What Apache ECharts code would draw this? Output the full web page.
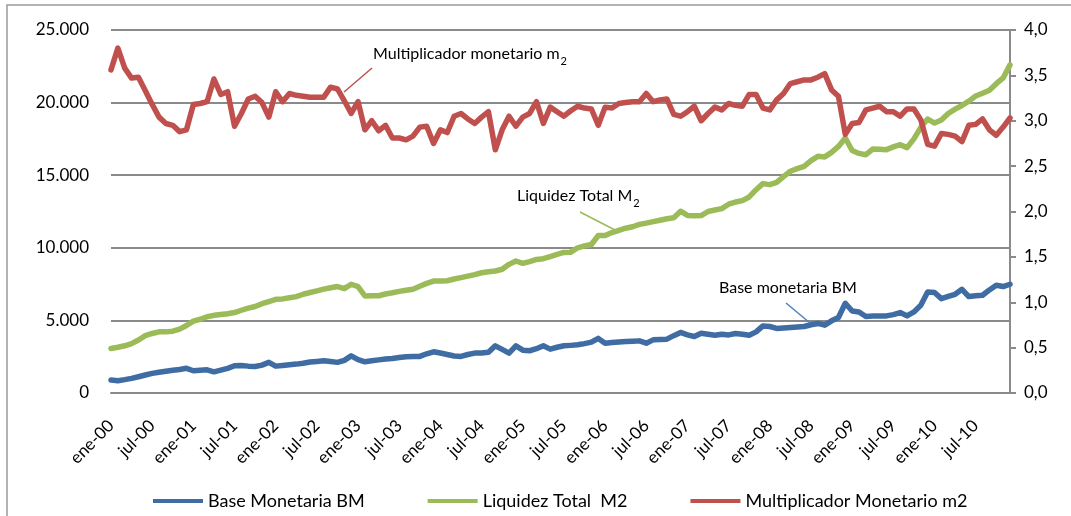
<!DOCTYPE html>
<html>
<head>
<meta charset="utf-8">
<script src="https://cdn.jsdelivr.net/npm/echarts@6/dist/echarts.min.js"></script>
<style>
  html, body { margin: 0; padding: 0; background: #ffffff; }
  #chart { width: 1071px; height: 516px; }
</style>
</head>
<body>
<div id="chart"></div>
<script>
// meses y años (ene-00 .. dic-10)
var meses = ['ene', 'feb', 'mar', 'abr', 'may', 'jun', 'jul', 'ago', 'sep', 'oct', 'nov', 'dic'];
var anios = ['00', '01', '02', '03', '04', '05', '06', '07', '08', '09', '10'];

// Base Monetaria BM (miles de millones)
var baseMonetaria = [
  890, 850, 920, 1010, 1120, 1240, 1350, 1430, 1500, 1560, 1620, 1700,
  1530, 1570, 1600, 1460, 1580, 1700, 1880, 1900, 1850, 1830, 1920, 2110,
  1850, 1900, 1950, 1990, 2050, 2130, 2170, 2220, 2170, 2110, 2250, 2560,
  2300, 2150, 2220, 2280, 2340, 2380, 2450, 2500, 2520, 2520, 2700, 2840,
  2750, 2650, 2550, 2520, 2650, 2750, 2750, 2800, 3250, 3000, 2750, 3250,
  2950, 2910, 3050, 3250, 3020, 3150, 3250, 3280, 3320, 3400, 3500, 3760,
  3430, 3480, 3520, 3550, 3570, 3590, 3430, 3660, 3680, 3710, 3950, 4170,
  4000, 3890, 4120, 4050, 3980, 4050, 4000, 4100, 4050, 3980, 4210, 4620,
  4580, 4450, 4480, 4510, 4550, 4580, 4700, 4790, 4670, 4970, 5200, 6180,
  5650, 5580, 5270, 5300, 5310, 5310, 5400, 5540, 5310, 5580, 6040, 6960,
  6920, 6500, 6650, 6800, 7140, 6640, 6700, 6730, 7100, 7420, 7330, 7490
];

// Liquidez Total M2
var liquidezTotal = [
  3070, 3150, 3250, 3400, 3650, 3950, 4100, 4210, 4210, 4260, 4400, 4650,
  4950, 5080, 5250, 5350, 5400, 5460, 5540, 5700, 5850, 5960, 6150, 6300,
  6450, 6480, 6560, 6640, 6800, 6920, 7030, 7150, 7250, 7330, 7190, 7490,
  7330, 6680, 6700, 6700, 6820, 6900, 7000, 7080, 7150, 7350, 7550, 7710,
  7710, 7730, 7850, 7950, 8050, 8150, 8280, 8350, 8400, 8520, 8860, 9090,
  8930, 9050, 9200, 9250, 9400, 9550, 9680, 9700, 10000, 10130, 10230, 10850,
  10850, 11050, 11200, 11350, 11450, 11610, 11700, 11800, 11900, 12000, 12070, 12520,
  12230, 12200, 12220, 12500, 12600, 12700, 13000, 13150, 13250, 13500, 14000, 14420,
  14350, 14500, 14900, 15270, 15450, 15610, 16000, 16300, 16260, 16570, 16980, 17560,
  16700, 16500, 16410, 16800, 16780, 16760, 16950, 17100, 16900, 17500, 18300, 18870,
  18590, 18800, 19250, 19550, 19800, 20100, 20450, 20650, 20850, 21300, 21700, 22600
];

// Multiplicador Monetario m2 (eje derecho)
var multiplicador = [
  3.56, 3.80, 3.58, 3.47, 3.48, 3.33, 3.18, 3.04, 2.97, 2.95, 2.88, 2.90,
  3.18, 3.19, 3.21, 3.46, 3.29, 3.32, 2.94, 3.08, 3.24, 3.27, 3.20, 3.04,
  3.32, 3.21, 3.30, 3.28, 3.27, 3.26, 3.26, 3.26, 3.37, 3.35, 3.22, 3.08,
  3.21, 2.90, 3.00, 2.89, 2.95, 2.81, 2.81, 2.79, 2.83, 2.93, 2.94, 2.75,
  2.90, 2.87, 3.05, 3.08, 3.02, 2.97, 3.04, 3.10, 2.68, 2.90, 3.05, 2.94,
  3.04, 3.08, 3.21, 2.97, 3.15, 3.10, 3.05, 3.11, 3.16, 3.14, 3.13, 2.95,
  3.15, 3.14, 3.19, 3.20, 3.21, 3.21, 3.30, 3.21, 3.23, 3.24, 3.07, 3.05,
  3.10, 3.16, 3.00, 3.08, 3.15, 3.12, 3.19, 3.17, 3.16, 3.29, 3.29, 3.14,
  3.12, 3.23, 3.30, 3.41, 3.43, 3.45, 3.45, 3.48, 3.52, 3.34, 3.27, 2.85,
  2.97, 2.98, 3.12, 3.14, 3.16, 3.10, 3.10, 3.05, 3.13, 3.13, 3.01, 2.74,
  2.72, 2.86, 2.85, 2.83, 2.77, 2.95, 2.96, 3.02, 2.90, 2.84, 2.93, 3.03
];

var categorias = [];
anios.forEach(function (a) {
  meses.forEach(function (m) { categorias.push(m + '-' + a); });
});

var FONT = 'Lato';
var azul = '#3e6ca3', verde = '#9bbb59', rojo = '#c0504d', gris = '#8a8a8a';

var myChart = echarts.init(document.getElementById('chart'), null, { renderer: 'canvas' });

var lineaSerie = function (name, color, data, yIdx, z) {
  return {
    name: name,
    type: 'line',
    yAxisIndex: yIdx,
    data: data,
    symbol: 'none',
    smooth: false,
    z: z,
    lineStyle: { color: color, width: 5.5, cap: 'round', join: 'round' },
    itemStyle: { color: color },
    emphasis: { disabled: true }
  };
};

// texto de anotación con subíndice
var richNota = {
  a: { fontFamily: FONT, fontSize: 16, color: '#000', verticalAlign: 'middle' },
  s: { fontFamily: FONT, fontSize: 11, color: '#000', verticalAlign: 'bottom', lineHeight: 26, padding: [0, 0, 0, 1] }
};

var option = {
  backgroundColor: '#ffffff',
  animation: false,
  textStyle: { fontFamily: FONT },
  grid: { left: 111, right: 61, top: 30, bottom: 123 },
  legend: {
    left: 148,
    top: 487,
    icon: 'rect',
    itemWidth: 50,
    itemHeight: 4,
    itemGap: 63,
    textStyle: { fontFamily: FONT, fontSize: 18, color: '#000' },
    data: ['Base Monetaria BM', 'Liquidez Total  M2', 'Multiplicador Monetario m2']
  },
  xAxis: {
    type: 'category',
    boundaryGap: false,
    data: categorias,
    axisLine: { lineStyle: { color: gris, width: 2 } },
    axisTick: { show: false },
    axisLabel: {
      interval: 5,
      rotate: 45,
      margin: 30,
      fontFamily: FONT,
      fontSize: 17,
      color: '#000'
    },
    splitLine: { show: false }
  },
  yAxis: [
    {
      type: 'value',
      min: 0,
      max: 25000,
      interval: 5000,
      axisLine: { show: false },
      axisTick: { show: false },
      axisLabel: {
        margin: 22,
        fontFamily: FONT,
        fontSize: 17,
        color: '#000',
        formatter: function (v) { return v === 0 ? '0' : (v / 1000).toFixed(0) + '.000'; }
      },
      splitLine: { lineStyle: { color: gris, width: 2 } }
    },
    {
      type: 'value',
      min: 0,
      max: 4,
      interval: 0.5,
      position: 'right',
      axisLine: { show: true, lineStyle: { color: gris, width: 2 } },
      axisTick: { show: true, inside: false, length: 6, lineStyle: { color: gris, width: 2 } },
      axisLabel: {
        margin: 14,
        fontFamily: FONT,
        fontSize: 17,
        color: '#000',
        formatter: function (v) { return v.toFixed(1).replace('.', ','); }
      },
      splitLine: { show: false }
    }
  ],
  series: [
    lineaSerie('Base Monetaria BM', azul, baseMonetaria, 0, 3),
    lineaSerie('Liquidez Total  M2', verde, liquidezTotal, 0, 4),
    lineaSerie('Multiplicador Monetario m2', rojo, multiplicador, 1, 5)
  ],
  graphic: [
    // marco
    { type: 'rect', silent: true, z: 0, shape: { x: 7, y: 5, width: 1100, height: 530 },
      style: { fill: null, stroke: '#9a9a9a', lineWidth: 1.5 } },
    // Multiplicador monetario m2
    { type: 'text', z: 10, left: 373, top: 46,
      style: { text: '{a|Multiplicador monetario m}{s|2}', rich: richNota } },
    { type: 'line', z: 10, shape: { x1: 372, y1: 68, x2: 344, y2: 92 },
      style: { stroke: rojo, lineWidth: 1.5 } },
    // Liquidez Total M2
    { type: 'text', z: 10, left: 517, top: 188,
      style: { text: '{a|Liquidez Total M}{s|2}', rich: richNota } },
    { type: 'line', z: 10, shape: { x1: 580, y1: 212, x2: 615, y2: 230 },
      style: { stroke: verde, lineWidth: 1.5 } },
    // Base monetaria BM
    { type: 'text', z: 10, left: 719, top: 280,
      style: { text: 'Base monetaria BM', fontFamily: FONT, fontSize: 16, fill: '#000' } },
    { type: 'line', z: 10, shape: { x1: 786, y1: 303, x2: 810, y2: 323 },
      style: { stroke: '#4f81bd', lineWidth: 1.5 } }
  ]
};

myChart.setOption(option, true);
</script>
</body>
</html>
